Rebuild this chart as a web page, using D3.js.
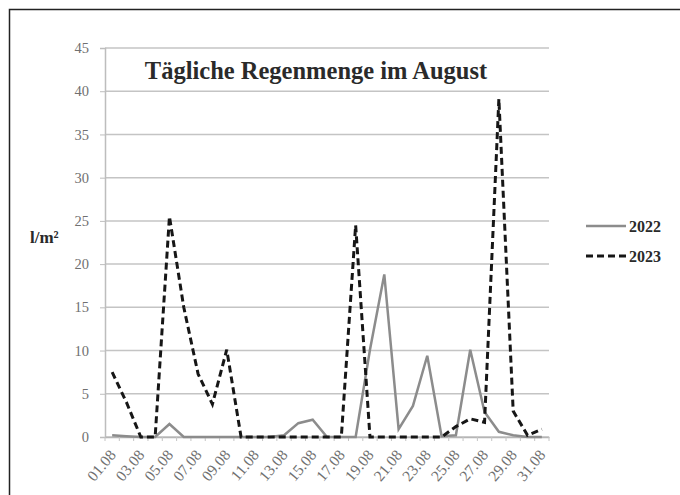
<!DOCTYPE html>
<html>
<head>
<meta charset="utf-8">
<script src="https://cdn.jsdelivr.net/npm/d3@7"></script>
<style>
	body { margin: 0; background: #fff; }
	svg { display: block; font-family: "Liberation Serif", "DejaVu Serif", serif; }
</style>
</head>
<body>
<svg id="chart" width="680" height="495"></svg>
<script>
	var days = d3.range(1, 32).map(function(d) {
		return (d < 10 ? "0" + d : "" + d) + ".08";
	});
	var rain2022 = [0.2, 0.1, 0, 0, 1.5, 0, 0, 0, 0, 0, 0, 0, 0.2, 1.6, 2.0, 0, 0, 0,
		10.1, 18.8, 0.9, 3.6, 9.4, 0.1, 0.2, 10.1, 2.9, 0.6, 0.2, 0, 0];
	var rain2023 = [7.5, 4, 0, 0, 25.5, 15, 7.3, 3.8, 10.1, 0, 0, 0, 0, 0, 0, 0, 0, 24.5,
		0, 0, 0, 0, 0, 0, 1.2, 2.1, 1.7, 39.1, 3, 0.2, 0.9];
	var yTicks = [0, 5, 10, 15, 20, 25, 30, 35, 40, 45];
	var seriesNames = ["2022", "2023"];

	var serif = '"Liberation Serif", "DejaVu Serif", serif';
	var margin = {top: 48, right: 131, bottom: 58, left: 105},
		width = 680 - margin.left - margin.right,
		height = 495 - margin.top - margin.bottom;

	var svg = d3.select("#chart");

	//  outer frame
	svg.append("path")
		.attr("d", "M9.5,495V9.5H680")
		.attr("fill", "none")
		.attr("stroke", "#222")
		.attr("stroke-width", 1.5);

	var g = svg.append("g")
		.attr("transform", "translate(" + margin.left + "," + margin.top + ")");

	var x = d3.scaleBand().domain(days).range([0, width]);
	var y = d3.scaleLinear().domain([0, 45]).range([height, 0]);

	//  grid lines
	g.selectAll(".grid")
		.data(yTicks)
		.enter().append("line")
		.attr("class", "grid")
		.attr("x1", 0)
		.attr("x2", width)
		.attr("y1", function(d) { return y(d); })
		.attr("y2", function(d) { return y(d); })
		.attr("stroke", "#c4c4c4")
		.attr("stroke-width", 1.5);

	//  y axis
	var yAxis = g.append("g")
		.call(d3.axisLeft(y).tickValues(yTicks).tickSize(5).tickPadding(11));
	yAxis.select(".domain").attr("stroke", "#bdbdbd").attr("stroke-width", 1.5);
	yAxis.selectAll(".tick line").attr("stroke", "#bdbdbd");
	yAxis.selectAll("text")
		.attr("fill", "#707070")
		.style("font-family", serif)
		.style("font-size", "14.5px");

	//  x axis, ticks between categories
	var xAxis = g.append("g")
		.attr("transform", "translate(0," + height + ")")
		.call(d3.axisBottom(x).tickSize(0).tickFormat(function(d, i) {
			return i % 2 === 0 ? d : "";
		}));
	xAxis.select(".domain").attr("stroke", "#b5b5b5").attr("stroke-width", 1.5);
	xAxis.selectAll("text")
		.attr("fill", "#707070")
		.style("font-family", serif)
		.style("font-size", "15.5px")
		.style("text-anchor", "end")
		.attr("dy", "0.35em")
		.attr("transform", "translate(-2,13) rotate(-50)");
	g.selectAll(".xtick")
		.data(days.concat(["end"]))
		.enter().append("line")
		.attr("class", "xtick")
		.attr("x1", function(d, i) { return i * x.step(); })
		.attr("x2", function(d, i) { return i * x.step(); })
		.attr("y1", height)
		.attr("y2", height + 4)
		.attr("stroke", "#c4c4c4");

	var line = d3.line()
		.x(function(d, i) { return x(days[i]) + x.bandwidth() / 2; })
		.y(function(d) { return y(d); });

	g.append("path")
		.datum(rain2022)
		.attr("fill", "none")
		.attr("stroke", "#8c8c8c")
		.attr("stroke-width", 2.5)
		.attr("stroke-linejoin", "miter")
		.attr("d", line);

	g.append("path")
		.datum(rain2023)
		.attr("fill", "none")
		.attr("stroke", "#161616")
		.attr("stroke-width", 3)
		.attr("stroke-dasharray", "7,4")
		.attr("d", line);

	//  title
	svg.append("text")
		.attr("x", 316)
		.attr("y", 79)
		.attr("text-anchor", "middle")
		.attr("fill", "#2a2a2a")
		.style("font-size", "24.5px")
		.style("font-weight", "bold")
		.text("Tägliche Regenmenge im August");

	//  y label
	svg.append("text")
		.attr("x", 30)
		.attr("y", 243)
		.attr("fill", "#2a2a2a")
		.style("font-size", "17px")
		.style("font-weight", "bold")
		.text("l/m²");

	//  legend
	var legend = svg.selectAll(".legend")
		.data(seriesNames)
		.enter().append("g")
		.attr("class", "legend")
		.attr("transform", function(d, i) {
			return "translate(586," + (226 + i * 30) + ")";
		});
	legend.append("line")
		.attr("x1", 0)
		.attr("x2", 40)
		.attr("stroke", function(d, i) { return i === 0 ? "#8c8c8c" : "#161616"; })
		.attr("stroke-width", function(d, i) { return i === 0 ? 2.5 : 3; })
		.attr("stroke-dasharray", function(d, i) { return i === 0 ? null : "7,4"; });
	legend.append("text")
		.attr("x", 43)
		.attr("dy", "0.35em")
		.attr("fill", "#2a2a2a")
		.style("font-size", "16px")
		.style("font-weight", "bold")
		.text(function(d) { return d; });
</script>
</body>
</html>
